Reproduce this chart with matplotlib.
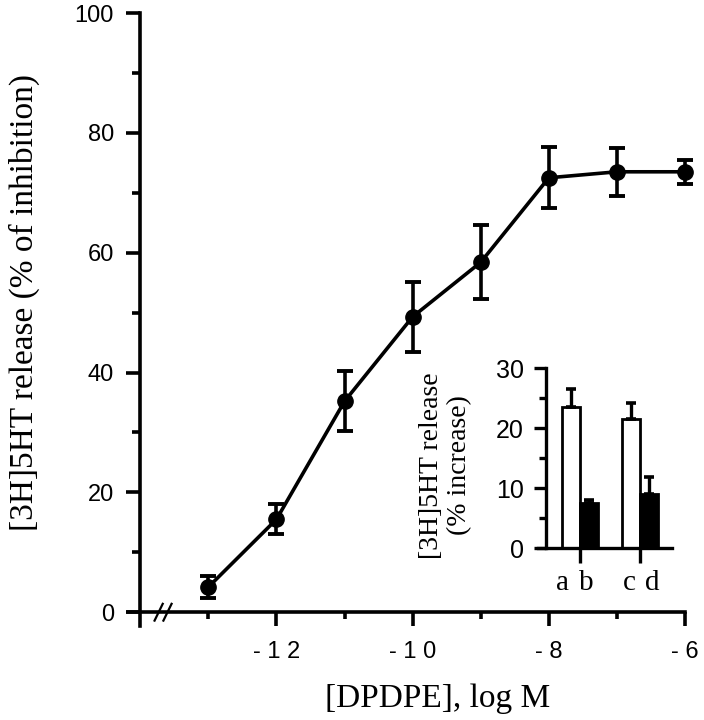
import matplotlib.pyplot as plt
from matplotlib.ticker import MultipleLocator, FixedLocator, NullFormatter

# main dose-response curve
log_conc = [-13, -12, -11, -10, -9, -8, -7, -6]
inhibition = [4.2, 15.5, 35.2, 49.3, 58.4, 72.5, 73.5, 73.5]
inhibition_err = [1.8, 2.5, 5.0, 5.8, 6.2, 5.1, 4.0, 2.0]
x_major = [-12, -10, -8, -6]
x_minor = [-13, -11, -9, -7]
x_ticklabels = ['- 1 2', '- 1 0', '- 8', '- 6']

# inset bars
bar_labels = ['a', 'b', 'c', 'd']
bar_pos = [0.85, 1.15, 1.85, 2.15]
label_shift = [-0.15, -0.05, -0.03, 0.05]
increase = [23.5, 7.5, 21.5, 9.0]
increase_err = [3.0, 0.5, 2.6, 2.8]
bar_fill = ['white', 'black', 'white', 'black']

serif = ['Liberation Serif', 'DejaVu Serif']
sans = ['Liberation Sans', 'DejaVu Sans']

W, H = 704, 720
fig = plt.figure(figsize=(W / 100, H / 100), dpi=100)

def px_axes(left, right, top, bottom):
    return fig.add_axes([left / W, 1 - bottom / H, (right - left) / W, (bottom - top) / H])

# ---- main axes ----
ax = px_axes(128, 685, 13, 626)
ax.set_xlim(-14.18, -6)
ax.set_ylim(-2.3, 100)
for s in ['top', 'right']:
    ax.spines[s].set_visible(False)
ax.spines['left'].set_position(('data', -14))
ax.spines['bottom'].set_position(('data', 0))
ax.spines['left'].set_linewidth(2.6)
ax.spines['bottom'].set_linewidth(2.6)

ax.errorbar(log_conc, inhibition, yerr=inhibition_err, color='black', lw=2.6,
            marker='o', ms=11, capsize=5.8, capthick=2.8, elinewidth=2.6,
            clip_on=False, zorder=3)

ax.xaxis.set_major_locator(FixedLocator(x_major))
ax.xaxis.set_minor_locator(FixedLocator(x_minor))
ax.set_xticklabels(x_ticklabels, fontfamily=sans, fontsize=17)
ax.yaxis.set_major_locator(MultipleLocator(20))
ax.yaxis.set_minor_locator(FixedLocator([10, 30, 50, 70, 90]))
ax.tick_params(axis='x', which='major', direction='out', length=10, width=2.6, pad=11)
ax.tick_params(axis='x', which='minor', direction='out', length=5, width=2.6)
ax.tick_params(axis='y', which='major', direction='out', length=10, width=2.6, pad=9)
ax.tick_params(axis='y', which='minor', direction='out', length=6, width=2.6)
for lab in ax.get_yticklabels():
    lab.set_fontfamily(sans)
    lab.set_fontsize(17)

# axis break marks
for xb in [-13.73, -13.60]:
    ax.plot([xb - 0.06, xb + 0.06], [-1.4, 1.4], color='black', lw=1.6, clip_on=False)

ax.set_xlabel('[DPDPE], log M', fontfamily=serif, fontsize=24)
ax.set_ylabel('[3H]5HT release (% of inhibition)', fontfamily=serif, fontsize=24)
ax.yaxis.set_label_coords(-0.158, 0.527)
ax.xaxis.set_label_coords(0.556, -0.093)
ax.xaxis.label.set_va('top')

# ---- inset ----
ins = px_axes(538, 672, 368, 548)
ins.set_xlim(0.3, 2.53)
ins.set_ylim(0, 30)
for s in ['top', 'right']:
    ins.spines[s].set_visible(False)
ins.spines['left'].set_position(('data', 0.433))
ins.spines['left'].set_linewidth(2.4)
ins.spines['bottom'].set_linewidth(2.4)
ins.bar(bar_pos, increase, width=0.3, color=bar_fill, edgecolor='black', linewidth=2.0, zorder=2)
ins.errorbar(bar_pos, increase, yerr=[[0] * 4, increase_err], fmt='none', ecolor='black',
             elinewidth=2.4, capsize=3.5, capthick=2.6, zorder=3)
ins.xaxis.set_major_locator(FixedLocator([1, 2]))
ins.xaxis.set_major_formatter(NullFormatter())
ins.yaxis.set_major_locator(MultipleLocator(10))
ins.yaxis.set_minor_locator(FixedLocator([5, 15, 25]))
ins.tick_params(axis='x', direction='out', length=11, width=2.4)
ins.tick_params(axis='y', which='major', direction='out', length=9, width=2.4, pad=7)
ins.tick_params(axis='y', which='minor', direction='out', length=5, width=2.4)
for lab in ins.get_yticklabels():
    lab.set_fontfamily(sans)
    lab.set_fontsize(18)
for xp, dx, lab in zip(bar_pos, label_shift, bar_labels):
    ins.text(xp + dx, -3.6, lab, ha='center', va='top', fontfamily=serif, fontsize=21)
ins.set_ylabel('[3H]5HT release\n(% increase)', fontfamily=serif, fontsize=20, linespacing=1.15)
ins.yaxis.set_label_coords(-0.49, 0.46)

fig.savefig('out.png', dpi=100)
